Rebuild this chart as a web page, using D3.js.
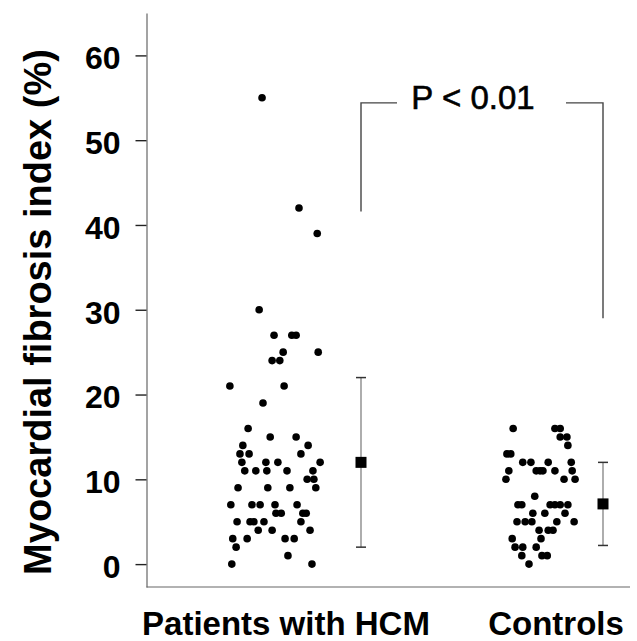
<!DOCTYPE html>
<html>
<head>
<meta charset="utf-8">
<script src="https://cdn.jsdelivr.net/npm/d3@7/dist/d3.min.js"></script>
<style>
  html, body { margin: 0; padding: 0; background: #fff; }
  svg { display: block; }
  text { font-family: "Liberation Sans", Arial, sans-serif; fill: #000; }
</style>
</head>
<body>
<svg id="chart" width="637" height="641"></svg>
<script>
// Groups and their individual measurements (fibrosis index, %).
// Each point: horizontal jitter within its column (-1..1) and value.
const groups = ["Patients with HCM", "Controls"];

const hcmValues = [
  55, 42, 39,
  30, 27, 27, 27, 25, 25, 24, 24, 21, 21, 19,
  16, 15, 15, 14, 14, 13, 13, 13,
  12, 12, 12, 12,
  11, 11, 11, 11, 11,
  10, 10,
  9, 9, 9, 9,
  7, 7, 7, 7, 7,
  6, 6, 6, 6,
  5, 5, 5, 5, 5,
  4, 4, 4,
  3, 3, 3, 3,
  2,
  1,
  0, 0
];
const hcmJitter = [
  -0.27, 0.50, 0.88,
  -0.33, -0.02, 0.35, 0.44, 0.17, 0.90, -0.06, 0.10, -0.94, 0.19, -0.25,
  -0.56, -0.10, 0.44, -0.67, 0.69, -0.73, -0.54, 0.54,
  -0.69, -0.19, 0.06, 0.94,
  -0.63, -0.40, -0.17, 0.25, 0.79,
  0.67, 0.81,
  -0.77, -0.15, 0.31, 0.85,
  -0.92, -0.48, -0.31, 0.00, 0.46,
  0.02, 0.13, 0.58, 0.65,
  -0.79, -0.52, -0.44, -0.23, 0.54,
  -0.35, -0.06, 0.73,
  -0.88, -0.58, 0.21, 0.40,
  -0.81,
  0.27,
  -0.90, 0.77
];

const controlValues = [
  16, 16, 16,
  15, 15,
  14,
  13, 13,
  12, 12, 12, 12,
  11, 11, 11, 11, 11, 11,
  10, 10, 10,
  8,
  7, 7, 7, 7, 7, 7,
  6, 6, 6,
  5, 5, 5, 5, 5,
  4, 4, 4,
  3, 3,
  2, 2, 2,
  1, 1, 1,
  0
];
const controlJitter = [
  -0.58, 0.29, 0.40,
  0.40, 0.54,
  0.56,
  -0.71, -0.63,
  -0.38, -0.21, 0.15, 0.63,
  -0.67, -0.10, -0.02, 0.04, 0.29, 0.65,
  -0.73, 0.48, 0.71,
  -0.13,
  -0.48, -0.40, 0.19, 0.29, 0.40, 0.56,
  -0.17, 0.08, 0.50,
  -0.50, -0.33, -0.19, 0.33, 0.69,
  -0.04, 0.15, 0.25,
  -0.60, 0.00,
  -0.54, -0.38, -0.10,
  -0.40, 0.02, 0.13,
  -0.25
];

// Group summaries: mean and standard deviation.
const means = [12, 7.1];
const sds = [10, 4.9];

const yTicks = [0, 10, 20, 30, 40, 50, 60];
const yTitle = "Myocardial fibrosis index (%)";
const pLabel = "P < 0.01";

// ---- layout ----
const svg = d3.select("#chart");
const axisX = 146.5, axisBottom = 587, axisTop = 13, axisRight = 630;

const y = d3.scaleLinear().domain([-2.7, 65]).range([axisBottom, axisTop]);
const xCat = d3.scalePoint().domain(groups).range([275, 541]);
const jitterSpread = 48;
const summaryOffset = { "Patients with HCM": 86, "Controls": 62 };
const labelOffset = { "Patients with HCM": 11, "Controls": 15 };

const points = [
  ...hcmValues.map((v, i) => ({ g: groups[0], v, j: hcmJitter[i] })),
  ...controlValues.map((v, i) => ({ g: groups[1], v, j: controlJitter[i] }))
];

// y axis
const yAxis = d3.axisLeft(y).tickValues(yTicks).tickSize(11).tickSizeOuter(0).tickPadding(15);
const gy = svg.append("g").attr("transform", `translate(${axisX},0)`).call(yAxis);
gy.select(".domain").attr("stroke", "#666").attr("stroke-width", 1.2);
gy.selectAll(".tick line").attr("stroke", "#222").attr("stroke-width", 1.4);
gy.selectAll(".tick text")
  .attr("font-size", 32).attr("font-weight", "bold")
  .attr("font-family", "Liberation Sans, Arial, sans-serif")
  .attr("fill", "#000").attr("dy", "0.42em");

// x axis baseline
svg.append("line")
  .attr("x1", axisX).attr("x2", axisRight)
  .attr("y1", axisBottom).attr("y2", axisBottom)
  .attr("stroke", "#666").attr("stroke-width", 1.2);

// category labels
svg.selectAll("text.cat").data(groups).join("text")
  .attr("class", "cat")
  .attr("x", d => xCat(d) + labelOffset[d])
  .attr("y", 635)
  .attr("text-anchor", "middle")
  .attr("font-size", 33).attr("font-weight", "bold")
  .text(d => d);

// y title
svg.append("text")
  .attr("transform", `translate(51,312) rotate(-90)`)
  .attr("text-anchor", "middle")
  .attr("font-size", 38).attr("font-weight", "bold")
  .text(yTitle);

// individual points
svg.selectAll("circle.pt").data(points).join("circle")
  .attr("class", "pt")
  .attr("cx", d => xCat(d.g) + d.j * jitterSpread)
  .attr("cy", d => y(d.v))
  .attr("r", 3.8)
  .attr("fill", "#000");

// mean ± SD
const summary = groups.map((g, i) => ({ g, m: means[i], s: sds[i] }));
const sg = svg.selectAll("g.sum").data(summary).join("g")
  .attr("class", "sum")
  .attr("transform", d => `translate(${xCat(d.g) + summaryOffset[d.g]},0)`);
sg.append("line")
  .attr("y1", d => y(d.m - d.s)).attr("y2", d => y(d.m + d.s))
  .attr("stroke", "#777").attr("stroke-width", 1.2);
sg.selectAll("line.cap").data(d => [d.m - d.s, d.m + d.s]).join("line")
  .attr("class", "cap")
  .attr("x1", -5).attr("x2", 5)
  .attr("y1", v => y(v)).attr("y2", v => y(v))
  .attr("stroke", "#333").attr("stroke-width", 1.5);
sg.append("rect")
  .attr("x", -5.5).attr("y", d => y(d.m) - 5.5)
  .attr("width", 11).attr("height", 11)
  .attr("fill", "#000");

// significance bracket
const bracketY = y(54.4);
const leftX = xCat(groups[0]) + summaryOffset[groups[0]];
const rightX = xCat(groups[1]) + summaryOffset[groups[1]];
const bracket = svg.append("g").attr("fill", "none");
bracket.append("path")
  .attr("d", `M${leftX},${y(41.6)}V${bracketY}H${leftX + 36}`)
  .attr("stroke", "#444").attr("stroke-width", 1.4);
bracket.append("path")
  .attr("d", `M${rightX - 37},${bracketY}H${rightX}V${y(29.0)}`)
  .attr("stroke", "#444").attr("stroke-width", 1.4);
svg.append("text")
  .attr("x", 473)
  .attr("y", bracketY + 6)
  .attr("text-anchor", "middle")
  .attr("font-size", 33)
  .attr("stroke", "#000").attr("stroke-width", 0.6)
  .text(pLabel);
</script>
</body>
</html>
